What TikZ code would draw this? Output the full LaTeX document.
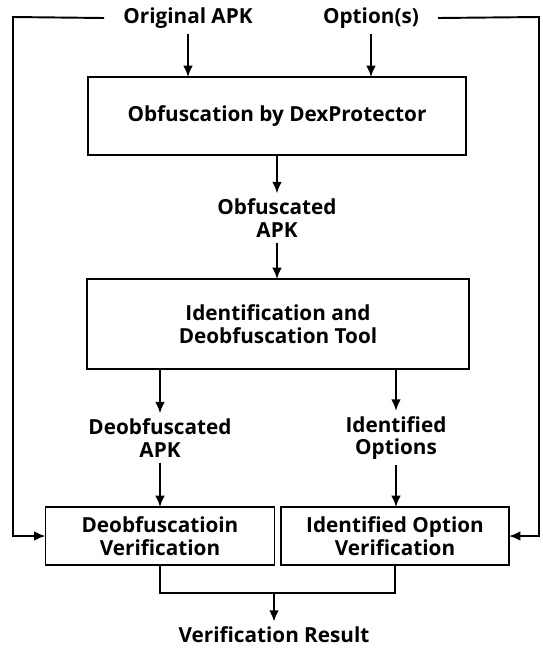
\documentclass[tikz,border=0pt]{standalone}
\usepackage{fontspec}
\setmainfont{Open Sans}
\usetikzlibrary{arrows.meta}

\begin{document}
\begin{tikzpicture}[x=0.02cm,y=-0.02cm,line width=1.1pt,
  every node/.style={font=\fontsize{11.8}{13}\selectfont\bfseries, align=center, outer sep=0pt},
  box/.style={draw, inner sep=2pt},
  lbl/.style={inner sep=3pt},
  arr/.style={-{Latex[length=6.5pt,width=5.5pt]}}]
\useasboundingbox (0,0) rectangle (543,650);

\node[lbl] (orig) at (188,18) {Original APK};
\node[lbl] (opt) at (371,18) {Option(s)};
\node[box, minimum width=7.58cm, minimum height=1.56cm] (obf) at (277,116) {Obfuscation by DexProtector};
\node[lbl] (obfapk) at (277,218) {Obfuscated\\APK};
\node[box, minimum width=7.66cm, minimum height=1.8cm] (tool) at (278,324) {Identification and\\Deobfuscation Tool};
\node[lbl] (deapk) at (160,438) {Deobfuscated\\APK};
\node[lbl] (idopt) at (396,438) {Identified\\Options};
\node[box, minimum width=4.58cm, minimum height=1.16cm] (dever) at (160,536) {Deobfuscatioin\\Verification};
\node[box, minimum width=4.56cm, minimum height=1.16cm] (opver) at (395,536) {Identified Option\\Verification};
\node[lbl] (result) at (274,635) {Verification Result};

\coordinate (tl) at (13,17);
\coordinate (tr) at (539,17);
\coordinate (join) at (274,593);

% inputs
\draw[arr] (orig.south) -- (orig.south |- obf.north);
\draw[arr] (opt.south) -- (opt.south |- obf.north);
\draw[arr] ([xshift=-8pt]orig.west) -- (tl) |- (dever.west);
\draw[arr] ([xshift=8pt]opt.east) -- (tr) |- (opver.west -| opver.east);

% middle
\draw[arr] (obf.south -| obfapk) -- (obfapk);
\draw[arr] (obfapk) -- (obfapk |- tool.north);
\draw[arr] (tool.south -| deapk) -- (deapk);
\draw[arr] (tool.south -| idopt) -- (idopt);
\draw[arr] (deapk) -- (deapk |- dever.north);
\draw[arr] (idopt) -- (idopt |- opver.north);

% result
\draw (dever.south) |- (join) -| (opver.south);
\draw[arr] (join) -- (result);
\end{tikzpicture}
\end{document}
